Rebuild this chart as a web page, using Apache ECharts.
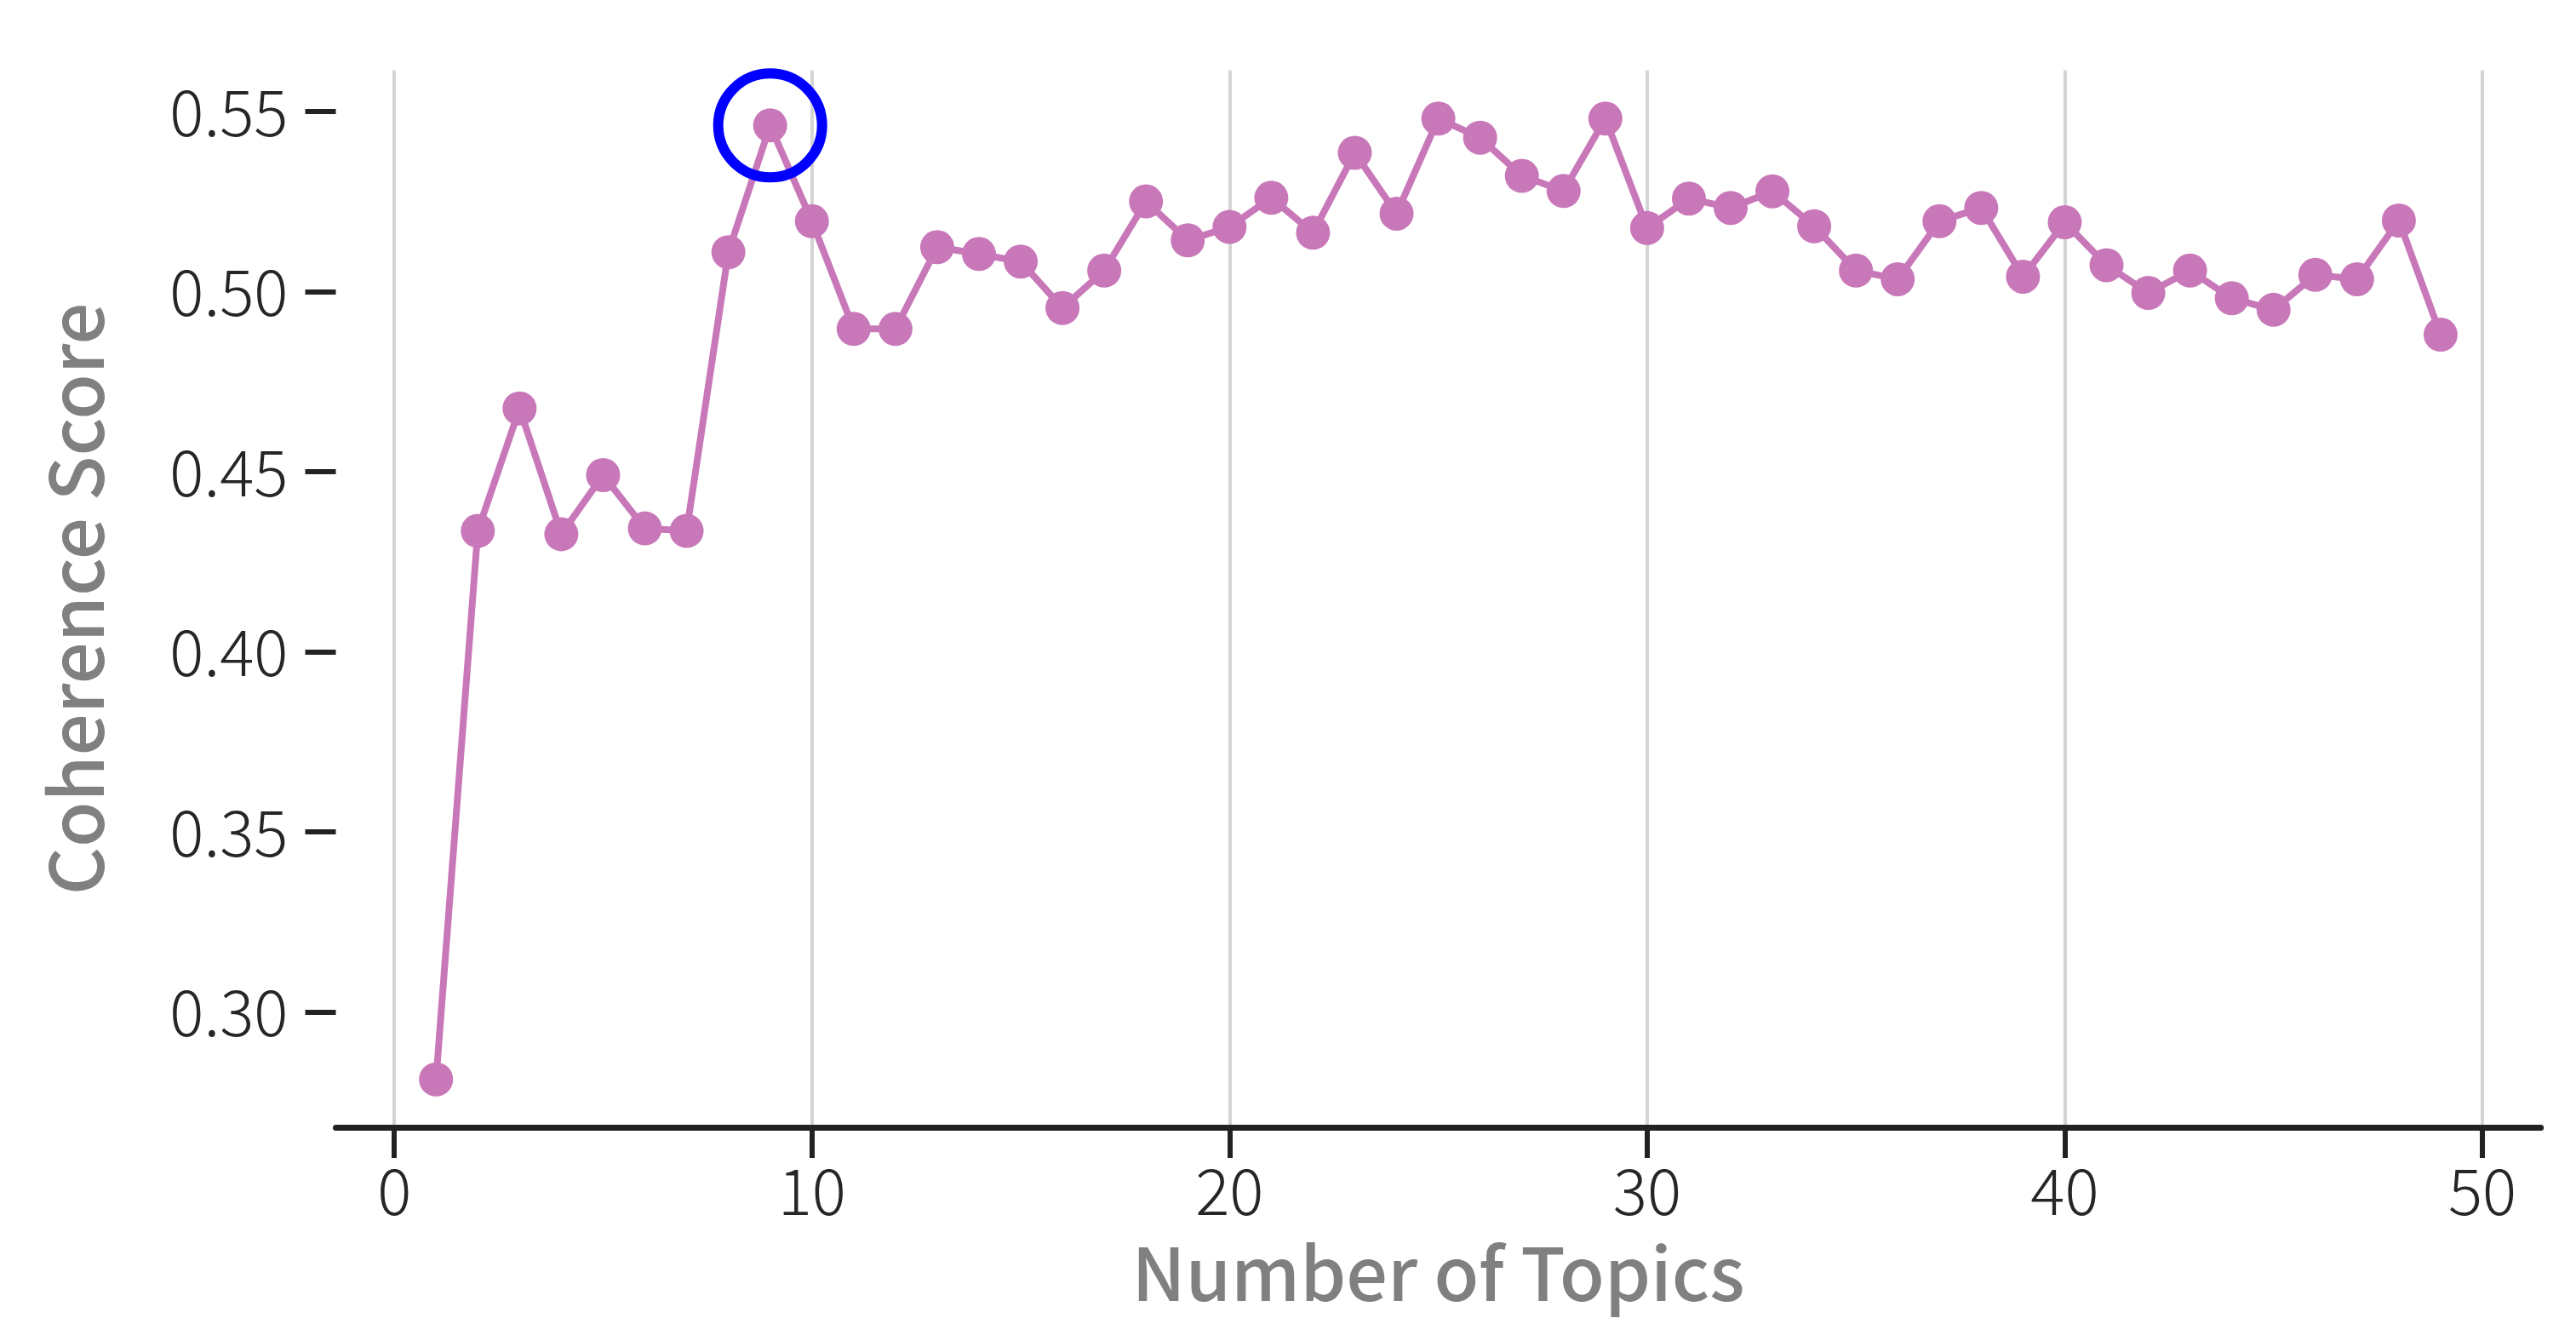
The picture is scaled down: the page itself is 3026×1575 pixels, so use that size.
<!DOCTYPE html>
<html>
<head>
<meta charset="utf-8">
<title>Coherence Score</title>
<script src="https://cdn.jsdelivr.net/npm/echarts@6/dist/echarts.min.js"></script>
<style>
  html, body { margin: 0; padding: 0; background: #fff; }
  #chart { width: 3026px; height: 1575px; }
</style>
</head>
<body>
<div id="chart"></div>
<script>
const topics = [1, 2, 3, 4, 5, 6, 7, 8, 9, 10, 11, 12, 13, 14, 15, 16, 17, 18, 19, 20,
  21, 22, 23, 24, 25, 26, 27, 28, 29, 30, 31, 32, 33, 34, 35, 36, 37, 38, 39, 40,
  41, 42, 43, 44, 45, 46, 47, 48, 49]
const scores = [0.2813, 0.4336, 0.4676, 0.4327, 0.4491, 0.4343, 0.4336, 0.5110, 0.5462, 0.5196,
  0.4897, 0.4897, 0.5124, 0.5105, 0.5084, 0.4955, 0.5059, 0.5251, 0.5143, 0.5180,
  0.5261, 0.5164, 0.5386, 0.5217, 0.5481, 0.5428, 0.5322, 0.5280, 0.5481, 0.5177,
  0.5259, 0.5233, 0.5279, 0.5182, 0.5059, 0.5035, 0.5196, 0.5233, 0.5042, 0.5193,
  0.5074, 0.4997, 0.5059, 0.4982, 0.4950, 0.5047, 0.5035, 0.5198, 0.4881]
const xTicks = [0, 10, 20, 30, 40, 50]
const yTicks = [0.30, 0.35, 0.40, 0.45, 0.50, 0.55]
const highlightTopic = 9

const FONT = '"Noto Sans CJK KR", "Noto Sans", sans-serif'
const lineColor = '#c878b9'
const tickColor = '#262626'
const titleColor = '#808080'

const points = topics.map((t, i) => [t, scores[i]])
const highlight = [[highlightTopic, scores[topics.indexOf(highlightTopic)]]]

const chart = echarts.init(document.getElementById('chart'), null, { renderer: 'canvas' })

const hidden = { show: false }

chart.setOption({
  backgroundColor: '#ffffff',
  animation: false,
  grid: [
    // data area (matplotlib-style padded limits)
    { left: 394.5, right: 41.3, top: 82.6, bottom: 251 },
    // x ticks + vertical grid lines
    { left: 463.2, right: 110, top: 82.6, bottom: 251 },
    // y ticks
    { left: 394.5, right: 41.3, top: 131.2, bottom: 386.3 }
  ],
  xAxis: [{
    gridIndex: 0,
    type: 'value',
    min: -1.4,
    max: 51.4,
    name: 'Number of Topics',
    nameLocation: 'middle',
    nameGap: 128,
    nameTextStyle: { fontFamily: FONT, fontSize: 86, fontWeight: 500, color: titleColor },
    axisLine: { show: true, lineStyle: { color: '#222222', width: 7 } },
    axisTick: hidden,
    axisLabel: hidden,
    splitLine: hidden
  }, {
    gridIndex: 1,
    type: 'value',
    min: xTicks[0],
    max: xTicks[xTicks.length - 1],
    interval: 10,
    axisLine: hidden,
    axisTick: { show: true, length: 36, lineStyle: { color: '#222222', width: 6 } },
    axisLabel: {
      margin: 37,
      fontFamily: FONT,
      fontSize: 75,
      fontWeight: 300,
      color: tickColor
    },
    splitLine: { show: true, lineStyle: { color: '#d4d4d4', width: 4 } }
  }, {
    gridIndex: 2,
    type: 'value',
    show: false
  }],
  yAxis: [{
    gridIndex: 0,
    type: 'value',
    min: 0.268,
    max: 0.5615,
    name: 'Coherence Score',
    nameLocation: 'middle',
    nameGap: 262,
    nameTextStyle: { fontFamily: FONT, fontSize: 87, fontWeight: 500, color: titleColor },
    axisLine: hidden,
    axisTick: hidden,
    axisLabel: hidden,
    splitLine: hidden
  }, {
    gridIndex: 1,
    type: 'value',
    show: false
  }, {
    gridIndex: 2,
    type: 'value',
    min: yTicks[0],
    max: yTicks[yTicks.length - 1],
    interval: 0.05,
    axisLine: hidden,
    axisTick: { show: true, length: 36, lineStyle: { color: '#222222', width: 6 } },
    axisLabel: {
      margin: 56,
      fontFamily: FONT,
      fontSize: 75,
      fontWeight: 300,
      color: tickColor,
      formatter: v => v.toFixed(2)
    },
    splitLine: hidden
  }],
  series: [{
    type: 'line',
    xAxisIndex: 0,
    yAxisIndex: 0,
    data: points,
    symbol: 'circle',
    symbolSize: 40,
    lineStyle: { color: lineColor, width: 8 },
    itemStyle: { color: lineColor },
    z: 3
  }, {
    type: 'scatter',
    xAxisIndex: 0,
    yAxisIndex: 0,
    data: highlight,
    symbol: 'circle',
    symbolSize: 122,
    itemStyle: { color: 'none', borderColor: '#0000ff', borderWidth: 12, opacity: 1 },
    z: 4
  }]
})
</script>
</body>
</html>
